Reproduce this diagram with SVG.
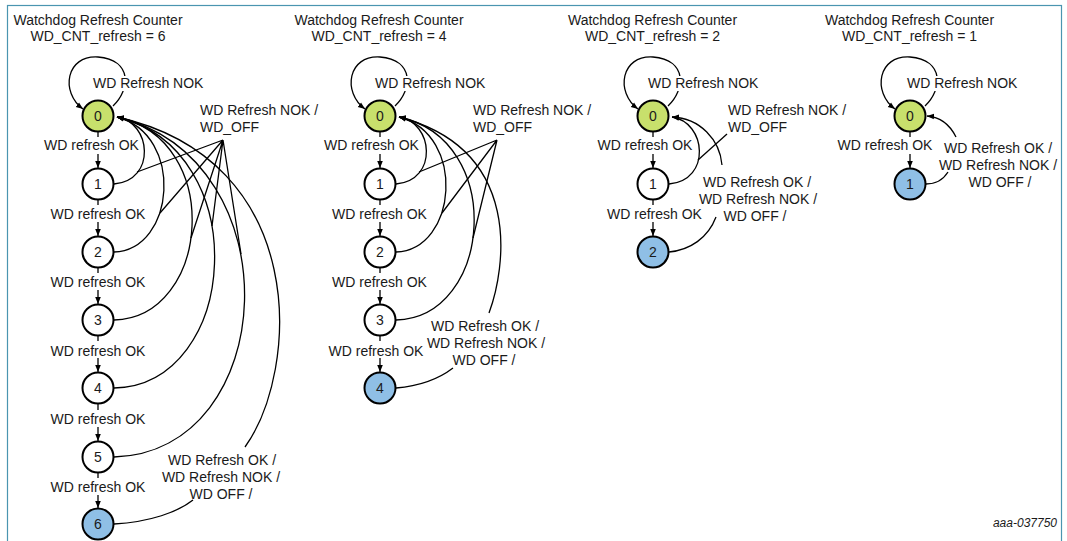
<svg xmlns="http://www.w3.org/2000/svg" width="1067" height="541" viewBox="0 0 1067 541">
<style>
text{font-family:"Liberation Sans",Arial,sans-serif;font-size:14px;fill:#1a1a1a}
.m{text-anchor:middle}
.n{fill:#fff;stroke:#000;stroke-width:2}
.g{fill:#c8e06c}
.b{fill:#8fbfe6}
.c{fill:none;stroke:#000;stroke-width:1.3}
.a{marker-end:url(#arr)}
.bg{fill:#fff}
.id{font-size:12px;font-style:italic;text-anchor:end}
</style>
<defs>
<marker id="arr" viewBox="0 0 10 10" refX="10" refY="5" markerWidth="7" markerHeight="7" markerUnits="userSpaceOnUse" orient="auto"><path d="M0,1 L10,5 L0,9 z" fill="#000"/></marker>
</defs>
<rect x="7.5" y="5.5" width="1054" height="600" fill="#fff" stroke="#4a95b0" stroke-width="1.2"/>

<g id="titles">
<text class="m" x="98" y="25">Watchdog Refresh Counter</text>
<text class="m" x="98" y="41">WD_CNT_refresh = 6</text>
<text class="m" x="379" y="25">Watchdog Refresh Counter</text>
<text class="m" x="379" y="41">WD_CNT_refresh = 4</text>
<text class="m" x="652.5" y="25">Watchdog Refresh Counter</text>
<text class="m" x="652.5" y="41">WD_CNT_refresh = 2</text>
<text class="m" x="909.5" y="25">Watchdog Refresh Counter</text>
<text class="m" x="909.5" y="41">WD_CNT_refresh = 1</text>
</g>

<g id="connectors">
<!-- diagram 1 -->
<path class="c a" d="M113,106 C130,90 133,60 98,57 C66,55 60,92 83,109"/>
<path class="c" d="M98,132 V137"/><path class="c a" d="M98,154 V168"/>
<path class="c" d="M98,200 V205"/><path class="c a" d="M98,222 V236"/>
<path class="c" d="M98,268 V273"/><path class="c a" d="M98,290 V304"/>
<path class="c" d="M98,336 V341"/><path class="c a" d="M98,358 V372"/>
<path class="c" d="M98,404 V410"/><path class="c a" d="M98,427 V441"/>
<path class="c" d="M98,473 V478"/><path class="c a" d="M98,495 V508"/>
<path class="c a" d="M114,184 C157,180 151,122 117,117"/>
<path class="c a" d="M114,252 C175,250 185,135 117,117"/>
<path class="c a" d="M114,320 C210,318 225,140 117,117"/>
<path class="c a" d="M114,388 C240,385 255,150 117,117"/>
<path class="c a" d="M114,457 C280,452 295,160 117,117"/>
<path class="c" d="M114,524 C150,522 178,512 193,500"/>
<path class="c a" d="M245,447 C300,370 310,160 117,117"/>
<path class="c" d="M223,140 L137,172 M223,140 L160,213 M223,140 L191,238 M223,140 L212,226 M223,140 L241,254"/>
<!-- diagram 2 -->
<path class="c a" d="M395,106 C412,90 415,60 380,57 C348,55 342,92 365,109"/>
<path class="c" d="M380,132 V137"/><path class="c a" d="M380,154 V168"/>
<path class="c" d="M380,200 V205"/><path class="c a" d="M380,222 V236"/>
<path class="c" d="M380,268 V273"/><path class="c a" d="M380,290 V304"/>
<path class="c" d="M380,336 V341"/><path class="c a" d="M380,358 V372"/>
<path class="c a" d="M396,184 C439,180 433,122 399,117"/>
<path class="c a" d="M396,252 C457,250 467,135 399,117"/>
<path class="c a" d="M396,320 C492,318 507,140 399,117"/>
<path class="c" d="M396,388 C420,386 440,378 453,368"/>
<path class="c a" d="M489,313 C505,270 525,150 399,117"/>
<path class="c" d="M497,140 L419,172 M497,140 L442,213 M497,140 L473,238"/>
<!-- diagram 3 -->
<path class="c a" d="M668,106 C685,90 688,60 653,57 C621,55 615,92 638,109"/>
<path class="c" d="M653,132 V137"/><path class="c a" d="M653,154 V168"/>
<path class="c" d="M653,200 V205"/><path class="c a" d="M653,222 V236"/>
<path class="c a" d="M669,184 C712,180 706,122 672,117"/>
<path class="c" d="M669,252 C690,250 708,238 716,217"/>
<path class="c a" d="M722,165 C720,140 700,118 672,117"/>
<path class="c" d="M727,134 L698,160"/>
<!-- diagram 4 -->
<path class="c a" d="M925,106 C942,90 945,60 910,57 C878,55 872,92 895,109"/>
<path class="c" d="M910,132 V137"/><path class="c a" d="M910,154 V168"/>
<path class="c" d="M926,184 C935,184 943,180 948,172"/>
<path class="c a" d="M956,137 C950,125 940,117 927,116"/>
</g>

<g id="labels">
<rect class="bg" x="92" y="76" width="114" height="15"/>
<text x="93" y="88">WD Refresh NOK</text>
<text class="m" x="91.5" y="150">WD refresh OK</text>
<text class="m" x="98" y="219">WD refresh OK</text>
<text class="m" x="98" y="287">WD refresh OK</text>
<text class="m" x="98" y="356">WD refresh OK</text>
<text class="m" x="98" y="424">WD refresh OK</text>
<text class="m" x="98" y="492">WD refresh OK</text>
<text x="200" y="115">WD Refresh NOK /</text>
<text x="200" y="132">WD_OFF</text>
<text class="m" x="222" y="465">WD Refresh OK /</text>
<text class="m" x="221" y="482">WD Refresh NOK /</text>
<text class="m" x="221" y="499">WD OFF /</text>

<rect class="bg" x="374" y="76" width="114" height="15"/>
<text x="375" y="88">WD Refresh NOK</text>
<text class="m" x="371.5" y="150">WD refresh OK</text>
<text class="m" x="379.5" y="219">WD refresh OK</text>
<text class="m" x="379.5" y="287">WD refresh OK</text>
<text class="m" x="376" y="356">WD refresh OK</text>
<text x="473" y="115">WD Refresh NOK /</text>
<text x="473" y="132">WD_OFF</text>
<text class="m" x="485" y="331">WD Refresh OK /</text>
<text class="m" x="486" y="348">WD Refresh NOK /</text>
<text class="m" x="484" y="365">WD OFF /</text>

<rect class="bg" x="647" y="76" width="114" height="15"/>
<text x="648" y="88">WD Refresh NOK</text>
<text class="m" x="645" y="150">WD refresh OK</text>
<text class="m" x="654.5" y="219">WD refresh OK</text>
<text x="728" y="115">WD Refresh NOK /</text>
<text x="728" y="132">WD_OFF</text>
<text class="m" x="757" y="187">WD Refresh OK /</text>
<text class="m" x="758" y="204">WD Refresh NOK /</text>
<text class="m" x="755" y="221">WD OFF /</text>

<rect class="bg" x="906" y="76" width="114" height="15"/>
<text x="907" y="88">WD Refresh NOK</text>
<text class="m" x="885" y="150">WD refresh OK</text>
<text class="m" x="998" y="153">WD Refresh OK /</text>
<text class="m" x="998" y="170">WD Refresh NOK /</text>
<text class="m" x="1000" y="187">WD OFF /</text>
</g>

<g id="d1n0"><circle class="n g" cx="98" cy="116" r="15.5"/><text class="m" x="98" y="121">0</text></g>
<g id="d1n1"><circle class="n" cx="98" cy="184" r="15.5"/><text class="m" x="98" y="189">1</text></g>
<g id="d1n2"><circle class="n" cx="98" cy="252" r="15.5"/><text class="m" x="98" y="257">2</text></g>
<g id="d1n3"><circle class="n" cx="98" cy="320" r="15.5"/><text class="m" x="98" y="325">3</text></g>
<g id="d1n4"><circle class="n" cx="98" cy="388" r="15.5"/><text class="m" x="98" y="393">4</text></g>
<g id="d1n5"><circle class="n" cx="98" cy="457" r="15.5"/><text class="m" x="98" y="462">5</text></g>
<g id="d1n6"><circle class="n b" cx="98" cy="524" r="15.5"/><text class="m" x="98" y="529">6</text></g>

<g id="d2n0"><circle class="n g" cx="380" cy="116" r="15.5"/><text class="m" x="380" y="121">0</text></g>
<g id="d2n1"><circle class="n" cx="380" cy="184" r="15.5"/><text class="m" x="380" y="189">1</text></g>
<g id="d2n2"><circle class="n" cx="380" cy="252" r="15.5"/><text class="m" x="380" y="257">2</text></g>
<g id="d2n3"><circle class="n" cx="380" cy="320" r="15.5"/><text class="m" x="380" y="325">3</text></g>
<g id="d2n4"><circle class="n b" cx="380" cy="388" r="15.5"/><text class="m" x="380" y="393">4</text></g>

<g id="d3n0"><circle class="n g" cx="653" cy="116" r="15.5"/><text class="m" x="653" y="121">0</text></g>
<g id="d3n1"><circle class="n" cx="653" cy="184" r="15.5"/><text class="m" x="653" y="189">1</text></g>
<g id="d3n2"><circle class="n b" cx="653" cy="252" r="15.5"/><text class="m" x="653" y="257">2</text></g>

<g id="d4n0"><circle class="n g" cx="910" cy="116" r="15.5"/><text class="m" x="910" y="121">0</text></g>
<g id="d4n1"><circle class="n b" cx="910" cy="184" r="15.5"/><text class="m" x="910" y="189">1</text></g>

<text class="id" x="1057" y="527">aaa-037750</text>
</svg>
